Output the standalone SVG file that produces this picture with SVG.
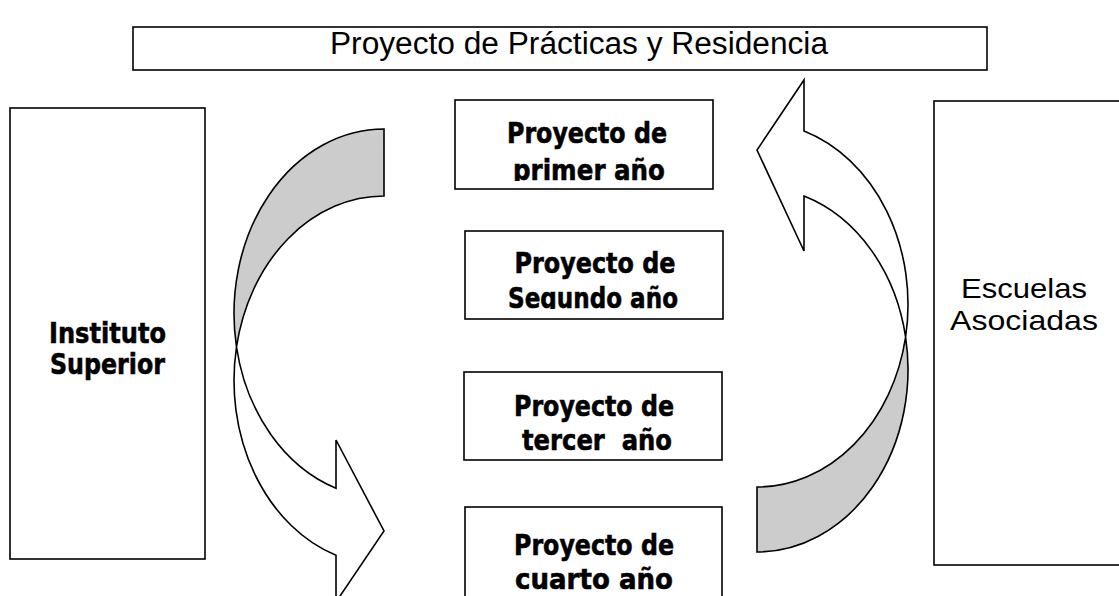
<svg xmlns="http://www.w3.org/2000/svg" width="1119" height="596" viewBox="0 0 1119 596">
<style>
.box{fill:#fff;stroke:#000;stroke-width:1.6}
.arr{stroke:#000;stroke-width:1.6;stroke-linejoin:miter}
.gray{fill:#cccccc}
.white{fill:#fff}
.b{font-family:"DejaVu Sans",Verdana,sans-serif;font-weight:bold;font-size:29px;fill:#000;stroke:#000;stroke-width:0.6;text-anchor:middle}
.r{font-family:"Liberation Sans",Arial,sans-serif;fill:#000;text-anchor:middle}
</style>
<defs>
<clipPath id="c1"><rect x="455" y="100" width="258" height="81"/></clipPath>
<clipPath id="c2"><rect x="465" y="231" width="258" height="78"/></clipPath>
</defs>
<rect width="1119" height="596" fill="#fff"/>
<g id="top">
<rect class="box" x="133" y="27" width="854" height="43"/>
<text class="r" x="579" y="54" font-size="31" textLength="498" lengthAdjust="spacingAndGlyphs">Proyecto de Prácticas y Residencia</text>
</g>
<g id="instituto">
<rect class="box" x="10" y="108" width="195" height="451"/>
<text class="b" x="107.5" y="343" font-size="26" textLength="117" lengthAdjust="spacingAndGlyphs">Instituto</text>
<text class="b" x="107.5" y="374" font-size="26" textLength="115" lengthAdjust="spacingAndGlyphs">Superior</text>
</g>
<g id="escuelas">
<rect class="box" x="934" y="101" width="200" height="464"/>
<text class="r" x="1024" y="298" font-size="27.5" textLength="126" lengthAdjust="spacingAndGlyphs">Escuelas</text>
<text class="r" x="1024" y="330" font-size="27.5" textLength="148" lengthAdjust="spacingAndGlyphs">Asociadas</text>
</g>
<g id="p1">
<rect class="box" x="455" y="100" width="258" height="89"/>
<g clip-path="url(#c1)">
<text class="b" x="587" y="143" textLength="160" lengthAdjust="spacingAndGlyphs">Proyecto de</text>
<text class="b" x="589" y="180" textLength="152" lengthAdjust="spacingAndGlyphs">primer año</text>
</g>
</g>
<g id="p2">
<rect class="box" x="465" y="231" width="258" height="88"/>
<g clip-path="url(#c2)">
<text class="b" x="595" y="273" textLength="161" lengthAdjust="spacingAndGlyphs">Proyecto de</text>
<text class="b" x="593" y="308" textLength="170" lengthAdjust="spacingAndGlyphs">Segundo año</text>
</g>
</g>
<g id="p3">
<rect class="box" x="464" y="372" width="258" height="88"/>
<text class="b" x="594" y="416" textLength="160" lengthAdjust="spacingAndGlyphs">Proyecto de</text>
<text class="b" x="597" y="450" textLength="150" lengthAdjust="spacingAndGlyphs" xml:space="preserve">tercer  año</text>
</g>
<g id="p4">
<rect class="box" x="465" y="507" width="257" height="100"/>
<text class="b" x="594" y="555" textLength="160" lengthAdjust="spacingAndGlyphs">Proyecto de</text>
<text class="b" x="594" y="589" textLength="158" lengthAdjust="spacingAndGlyphs">cuarto año</text>
</g>
<g id="connectors">
<path class="arr gray" d="M384,129 A150,184.5 0 0 0 236.5,347 A150,184.5 0 0 1 384,196 Z"/>
<path class="arr white" d="M236.5,347 A150,184.5 0 0 0 336,555.3 L336,602 L384,531 L336,440 L336,488.3 A150,184.5 0 0 1 236.5,347 Z"/>
<path class="arr gray" d="M757,552 A151,182.5 0 0 0 905.6,337 A151,182.5 0 0 1 757,487 Z"/>
<path class="arr white" d="M905.6,337 A151,182.5 0 0 0 804,131.1 L804,80 L757,150 L804,251 L804,196.1 A151,182.5 0 0 1 905.6,337 Z"/>
</g>
</svg>
